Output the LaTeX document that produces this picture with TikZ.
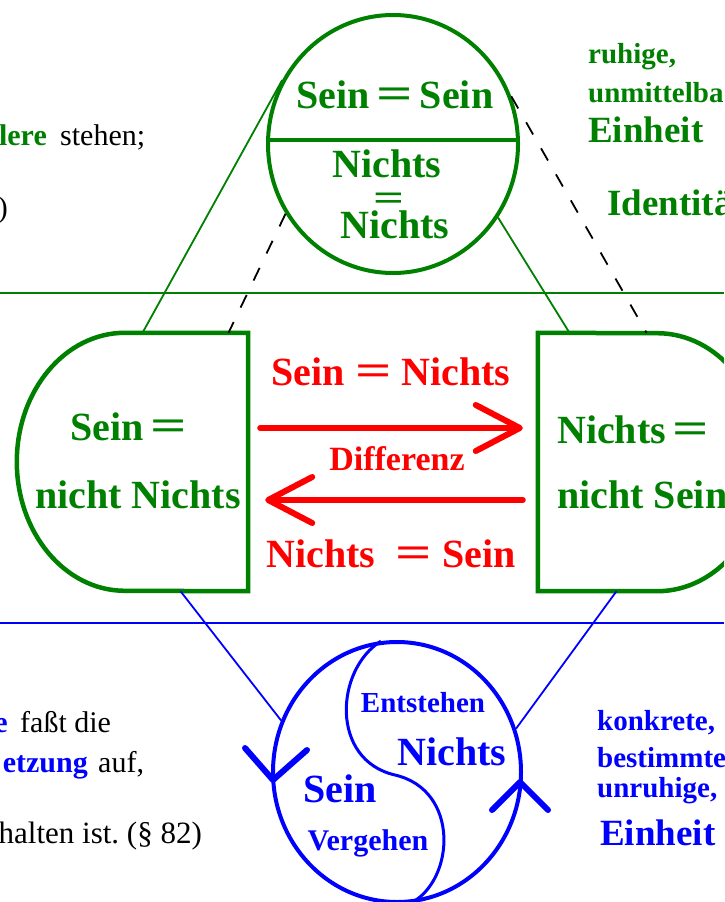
\documentclass[tikz,border=0pt]{standalone}
\usepackage{fontspec}
\setmainfont{Liberation Serif}
\usepackage{graphicx}
\usepackage{tikz}
\usetikzlibrary{shapes.geometric, arrows.meta, positioning, calc}

\definecolor{hgreen}{HTML}{008000}
\definecolor{hred}{HTML}{FF0000}
\definecolor{hblue}{HTML}{0000FF}
\newcommand{\eqbar}{\scalebox{1.6}[1.1]{=}}

\begin{document}
\begin{tikzpicture}[
    x=1pt, y=-1pt,
    big/.style={font=\fontsize{40}{48}\selectfont\bfseries, anchor=base, inner sep=0pt},
    mid/.style={font=\fontsize{30}{36}\selectfont\bfseries, anchor=base, inner sep=0pt},
    side/.style={font=\fontsize{29}{34}\selectfont\bfseries, anchor=base west, inner sep=0pt},
    sidebig/.style={font=\fontsize{37}{44}\selectfont\bfseries, anchor=base west, inner sep=0pt},
    plain/.style={font=\fontsize{30}{36}\selectfont, inner sep=0pt},
    plainbf/.style={font=\fontsize{30}{36}\selectfont\bfseries, inner sep=0pt},
    dbox/.style={draw=none, minimum height=258pt, inner sep=0pt},
    gshape/.style={hgreen, line width=4.5pt},
    bshape/.style={hblue, line width=4pt},
    link/.style={hgreen, line width=1.8pt},
    blink/.style={hblue, line width=1.8pt},
    dashlink/.style={black, line width=1.8pt, dash pattern=on 14pt off 16pt},
    redarrow/.style={hred, line width=6pt, line cap=round, -{Straight Barb[length=44pt, width=46pt, round]}},
    chev/.style={hblue, line width=6pt, line cap=round, line join=round}
]
\useasboundingbox (0,0) rectangle (724,902);
\clip (0,0) rectangle (724,902);
\fill[white] (0,0) rectangle (724,902);

% dividers
\draw[hgreen, line width=2pt] (0,293) -- (724,293);
\draw[hblue, line width=2pt] (0,623) -- (724,623);

% top: Sein = Sein / Nichts = Nichts
\node[ellipse, draw=hgreen, line width=4pt, minimum width=250pt, minimum height=258pt] (topc) at (393,144) {};
\draw[hgreen, line width=3.5pt] ([yshift=4pt]topc.west) -- ([yshift=4pt]topc.east);
\node[big, text=hgreen] (ss) at (395,108) {Sein\,\eqbar\,Sein};
\node[big, text=hgreen] (nn1) at (387,177) {Nichts};
\node[big, text=hgreen, font=\fontsize{34}{40}\selectfont\bfseries] (neq) at (389,210) {\eqbar};
\node[big, text=hgreen] (nn2) at (395,238) {Nichts};

% left and right halves
\node[dbox, minimum width=231pt] (lbox) at (132.5,462) {};
\node[dbox, minimum width=227pt] (rbox) at (651.5,462) {};
\draw[gshape] (lbox.south east) -- (lbox.north east) -- ([xshift=108pt]lbox.north west)
    arc[start angle=90, end angle=270, x radius=108pt, y radius=129pt] -- cycle;
\draw[gshape] (rbox.north west) -- (rbox.south west) -- ([xshift=-108pt]rbox.south east)
    arc[start angle=-90, end angle=90, x radius=108pt, y radius=129pt] -- cycle;
\node[big, text=hgreen] (sn1) at (129,440) {Sein\,\eqbar};
\node[big, text=hgreen] (sn2) at (138,508) {nicht Nichts};
\node[big, text=hgreen, anchor=base west] (ns1) at (557,443) {Nichts\,\eqbar};
\node[big, text=hgreen, anchor=base west] (ns2) at (557,508) {nicht Sein};

\draw[link] (topc.150) -- ([xshift=10pt]lbox.north);
\draw[link] (topc.-35) -- ([xshift=-82pt]rbox.north);
\draw[dashlink] (topc.213) -- ([xshift=96pt]lbox.north);
\draw[dashlink] (topc.22) -- ([xshift=-5pt]rbox.north);

% Differenz
\draw[redarrow] ([shift={(12,-34)}]lbox.east) -- ([shift={(-15,-34)}]rbox.west);
\draw[redarrow] ([shift={(-15,38)}]rbox.west) -- ([shift={(17,38)}]lbox.east);
\node[big, text=hred] (sgn) at (391,385) {Sein \eqbar{} Nichts};
\node[mid, text=hred, font=\fontsize{34}{40}\selectfont\bfseries] (diff) at (397,470) {Differenz};
\node[big, text=hred] (ngs) at (391,567) {Nichts~~\eqbar{} Sein};

% bottom: Werden
\node[ellipse, draw=hblue, line width=4pt, minimum width=248pt, minimum height=260pt] (bc) at (397,772) {};
\draw[hblue, line width=3pt] (bc.97) .. controls (335,670) and (330,760) .. (395,775)
    .. controls (460,790) and (455,880) .. (bc.-84);
\coordinate (vtip) at (273,780);
\coordinate (etip) at (520,782);
\draw[chev] (245,748) -- (vtip) -- (307,750);
\draw[chev] (492,810) -- (etip) -- (548,810);
\draw[blink] ([xshift=48pt]lbox.south) -- (bc.156);
\draw[blink] ([xshift=-35pt]rbox.south) -- (bc.20);
\node[mid, text=hblue, font=\fontsize{29}{34}\selectfont\bfseries] (ent) at (423,712) {Entstehen};
\node[big, text=hblue] (bn) at (452,765) {Nichts};
\node[big, text=hblue] (bs) at (340,802) {Sein};
\node[mid, text=hblue] (verg) at (368,850) {Vergehen};

% right margin
\node[side, text=hgreen] (ruh) at (588,63) {ruhige,};
\node[side, text=hgreen] (unm) at (588,102) {unmittelba};
\node[sidebig, text=hgreen] (ein1) at (588,142) {Einheit};
\node[sidebig, text=hgreen] (ident) at (607,215) {Identitä};
\node[side, text=hblue] (konk) at (597,730) {konkrete,};
\node[side, text=hblue] (best) at (597,767) {bestimmte};
\node[side, text=hblue] (unr) at (597,797) {unruhige,};
\node[sidebig, text=hblue] (ein2) at (600,845) {Einheit};

% left margin
\node[plainbf, text=hgreen, anchor=base east] (lere) at (47,145) {lere};
\node[plain, anchor=base west] (steh) at (60,145) {stehen;};
\node[plain, anchor=base east] (par) at (8,217) {)};
\node[plainbf, text=hblue, anchor=base east] (ee) at (8,732) {e};
\node[plain, anchor=base west] (fass) at (20,732) {faßt die};
\node[plainbf, text=hblue, anchor=base east] (etz) at (88,772) {etzung};
\node[plain, anchor=base west] (auf) at (98,772) {auf,};
\node[plain, font=\fontsize{31}{36}\selectfont, anchor=base east] (halt) at (202,843) {halten ist.\ (§ 82)};
\end{tikzpicture}
\end{document}
